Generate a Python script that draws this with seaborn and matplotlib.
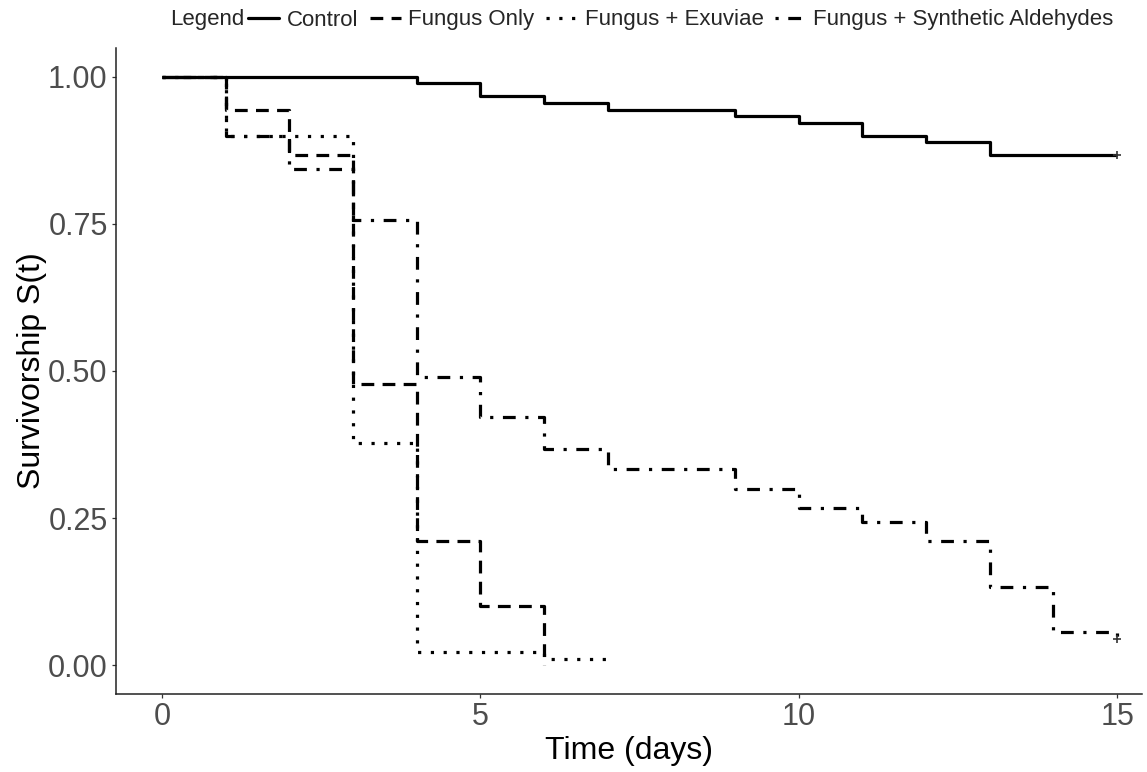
import numpy as np
import pandas as pd
import matplotlib
matplotlib.use("Agg")
import matplotlib.pyplot as plt
from matplotlib.lines import Line2D
import seaborn as sns

# Kaplan-Meier step estimates per treatment (time in days, survivorship S(t))
groups = ["Control", "Fungus Only", "Fungus + Exuviae", "Fungus + Synthetic Aldehydes"]

control_t = [0, 4, 5, 6, 7, 9, 10, 11, 12, 13, 15]
control_s = [1.000, 0.989, 0.967, 0.956, 0.944, 0.933, 0.922, 0.900, 0.889, 0.867, 0.867]

fungus_t = [0, 1, 2, 3, 4, 5, 6]
fungus_s = [1.000, 0.944, 0.867, 0.478, 0.211, 0.100, 0.000]

exuviae_t = [0, 1, 3, 4, 6, 7]
exuviae_s = [1.000, 0.900, 0.378, 0.022, 0.011, 0.011]

aldehyde_t = [0, 1, 2, 3, 4, 5, 6, 7, 9, 10, 11, 12, 13, 14, 15]
aldehyde_s = [1.000, 0.900, 0.844, 0.756, 0.489, 0.422, 0.367, 0.333,
              0.300, 0.267, 0.244, 0.211, 0.133, 0.056, 0.044]

# censored observations at end of follow-up
censor_group = ["Control", "Fungus + Synthetic Aldehydes"]
censor_t = [15, 15]
censor_s = [0.867, 0.044]

x_ticks = [0, 5, 10, 15]
y_ticks = [0.00, 0.25, 0.50, 0.75, 1.00]
y_tick_labels = ["0.00", "0.25", "0.50", "0.75", "1.00"]

series = {
    "Control": (control_t, control_s),
    "Fungus Only": (fungus_t, fungus_s),
    "Fungus + Exuviae": (exuviae_t, exuviae_s),
    "Fungus + Synthetic Aldehydes": (aldehyde_t, aldehyde_s),
}
df = pd.concat(
    [pd.DataFrame({"time": t, "surv": s, "group": g}) for g, (t, s) in series.items()],
    ignore_index=True,
)
df["group"] = pd.Categorical(df["group"], categories=groups, ordered=True)
censored = pd.DataFrame({"time": censor_t, "surv": censor_s, "group": censor_group})

sns.set_theme(style="white")
plt.rcParams["font.family"] = ["Liberation Sans", "DejaVu Sans"]

dash_map = {
    "Control": "",
    "Fungus Only": (4, 2.6),
    "Fungus + Exuviae": (1, 3),
    "Fungus + Synthetic Aldehydes": (1, 3, 4, 3),
}

fig = plt.figure(figsize=(11.47, 7.72), dpi=100)
ax = fig.add_axes([116 / 1147, 1 - 694 / 772, (1142 - 116) / 1147, (694 - 48) / 772])

lw = 2.3
sns.lineplot(
    data=df, x="time", y="surv", style="group", style_order=groups,
    dashes=dash_map, color="black", linewidth=lw, estimator=None, sort=False,
    drawstyle="steps-post", legend=False, ax=ax,
)
for ln in ax.lines:
    ln.set_dash_capstyle("butt")
    ln.set_solid_capstyle("butt")

sns.scatterplot(data=censored, x="time", y="surv", marker="+", color="#333333",
                s=40, linewidth=1.2, legend=False, ax=ax, zorder=5)

ax.set_xlim(-0.72, 15.39)
ax.set_ylim(-0.049, 1.049)
ax.set_xticks(x_ticks)
ax.set_xticklabels([str(v) for v in x_ticks])
ax.set_yticks(y_ticks)
ax.set_yticklabels(y_tick_labels)

for side in ["top", "right"]:
    ax.spines[side].set_visible(False)
for side in ["left", "bottom"]:
    ax.spines[side].set_color("#222222")
    ax.spines[side].set_linewidth(1.1)

ax.tick_params(axis="both", which="major", length=3, width=0.9, color="#333333",
               labelsize=22, labelcolor="#4d4d4d", pad=3, bottom=True, left=True)
ax.set_xlabel("Time (days)", fontsize=23, color="black", labelpad=3)
ax.set_ylabel("Survivorship S(t)", fontsize=23, color="black", labelpad=1)

# horizontal legend across the top, title on the left
handles = [
    Line2D([], [], color="black", linewidth=lw, linestyle="-"),
    Line2D([], [], color="black", linewidth=lw, linestyle=(0, (4, 2.6))),
    Line2D([], [], color="black", linewidth=lw, linestyle=(0, (1, 3))),
    Line2D([], [], color="black", linewidth=lw, linestyle=(0, (1, 3, 4, 3))),
]
fig.text(170 / 1147, 1 - 20 / 772, "Legend", fontsize=16, ha="left", va="center")
leg = fig.legend(handles, groups, loc="center left", bbox_to_anchor=(248 / 1147, 1 - 20 / 772),
                 ncol=4, frameon=False, fontsize=16, handlelength=1.4,
                 handletextpad=0.35, columnspacing=0.5, borderaxespad=0, borderpad=0)

fig.savefig("out.png", dpi=100)
